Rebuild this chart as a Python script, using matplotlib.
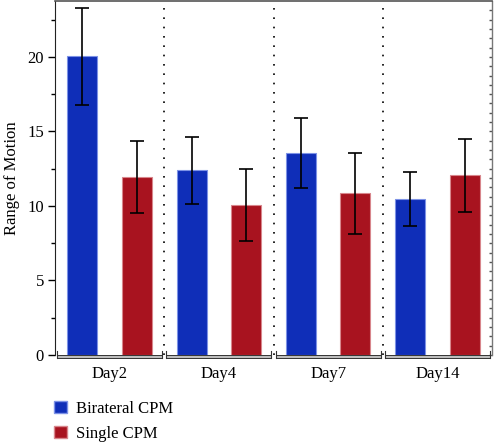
import numpy as np
import matplotlib
matplotlib.use("Agg")
import matplotlib.pyplot as plt
from matplotlib.patches import Rectangle, Patch
from matplotlib.lines import Line2D
import matplotlib.transforms as mtransforms

categories = ["Day2", "Day4", "Day7", "Day14"]
series_names = ["Birateral CPM", "Single CPM"]
bilateral = [20.05, 12.4, 13.58, 10.45]
bilateral_err = [3.25, 2.25, 2.35, 1.8]
single = [11.95, 10.05, 10.85, 12.05]
single_err = [2.4, 2.4, 2.7, 2.45]
yticks = [0, 5, 10, 15, 20]

blue = "#0f2eb8"
red = "#a8131f"

plt.rcParams['font.family'] = ['Liberation Serif', 'DejaVu Serif']

fig = plt.figure(figsize=(4.94, 4.43), dpi=100)
ax = fig.add_axes([55/494, 1 - 355/443, (492-55)/494, (355-1)/443])

x = np.arange(len(categories))
w = 0.275
ax.bar(x - 0.25, bilateral, w, color=blue, edgecolor="#7d92e6", linewidth=0.8, zorder=2)
ax.bar(x + 0.25, single, w, color=red, edgecolor="#d8868c", linewidth=0.8, zorder=2)
ax.errorbar(x - 0.25, bilateral, yerr=bilateral_err, fmt='none', ecolor='black',
            elinewidth=1.2, capsize=5, capthick=1.2, zorder=3)
ax.errorbar(x + 0.25, single, yerr=single_err, fmt='none', ecolor='black',
            elinewidth=1.2, capsize=5, capthick=1.2, zorder=3)

ax.set_xlim(-0.5, len(categories) - 0.5)
ax.set_ylim(0, 23.75)

for sx in np.arange(0.5, len(categories) - 0.5, 1):
    ax.axvline(sx, color='black', linestyle=(0, (1, 4.6)), linewidth=1.2, zorder=1)

ax.set_yticks(yticks)
ax.set_yticks(np.arange(2.5, 23.75, 5), minor=True)
ax.tick_params(axis='y', which='major', direction='out', length=5, width=1, labelsize=12, pad=3)
ax.tick_params(axis='y', which='minor', direction='out', length=3, width=1)
ax.set_xticks(x)
ax.set_xticklabels(categories, fontsize=12)
ax.tick_params(axis='x', length=0, pad=8)
ax.set_ylabel("Range of Motion", fontsize=12, labelpad=5)

ax.spines['bottom'].set_visible(False)
ax.spines['left'].set_color('#222222')
ax.spines['top'].set_color('#555555')
ax.spines['top'].set_linewidth(1.2)
ax.spines['right'].set_color('#777777')
ax.spines['right'].set_linewidth(1.0)

sec = ax.secondary_yaxis('right')
sec.set_yticks(np.arange(0, 23.75, 0.625))
sec.tick_params(direction='in', length=2.5, width=1, color='#555555', labelright=False)
sec.spines['right'].set_visible(False)

# bottom bracket segments
trans = mtransforms.blended_transform_factory(ax.transData, ax.transAxes)
h = 3 / 354
for i in range(len(categories)):
    x0 = i - 0.5 + 0.02
    x1 = i + 0.5 - 0.02
    ax.add_patch(Rectangle((x0, -h), x1 - x0, h, transform=trans, facecolor='#bdbdbd',
                           edgecolor='#333333', linewidth=0.7, clip_on=False, zorder=4))
    for xe in (x0, x1):
        ax.add_line(Line2D([xe, xe], [-h, 0.01], transform=trans, color='#333333',
                           linewidth=0.8, clip_on=False, zorder=4))

handles = [Patch(facecolor=blue, edgecolor="#7d92e6"), Patch(facecolor=red, edgecolor="#d8868c")]
fig.legend(handles, series_names, loc='upper left', bbox_to_anchor=(49/494, 1 - 396/443),
           frameon=False, fontsize=12, handlelength=0.75, handleheight=0.75,
           handletextpad=0.6, labelspacing=0.55, borderaxespad=0, borderpad=0.3)

fig.savefig("out.png", dpi=100)
